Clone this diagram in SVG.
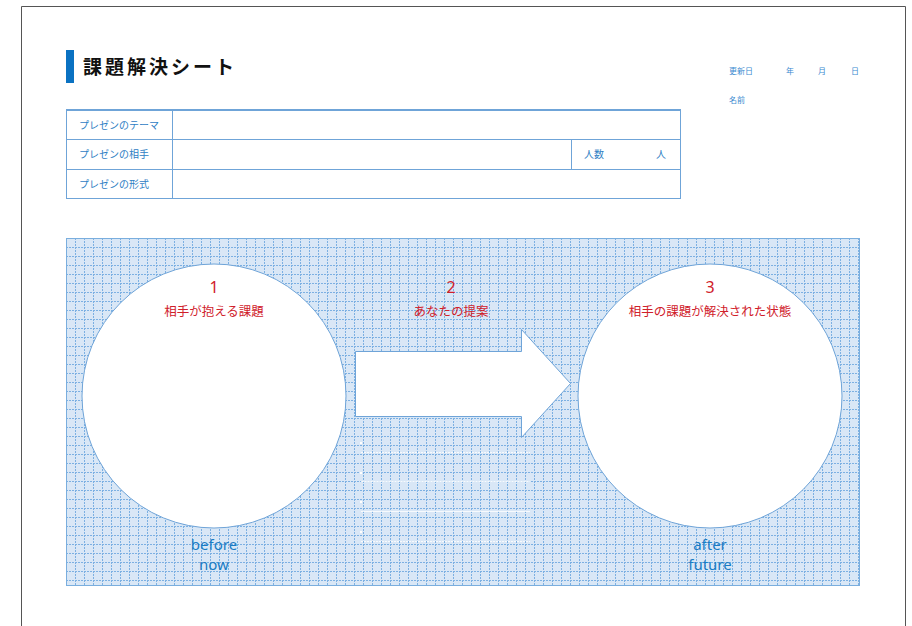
<svg xmlns="http://www.w3.org/2000/svg" width="912" height="626" viewBox="0 0 912 626">
<defs>
<style>
.lbl{font-family:"Noto Sans CJK JP","Noto Sans",sans-serif;font-size:10px;fill:#2f80c4}
.sm{font-family:"Noto Sans CJK JP","Noto Sans",sans-serif;font-size:8px;fill:#3a8ad0}
.red{font-family:"Noto Sans","Noto Sans CJK JP",sans-serif;fill:#d0202a;text-anchor:middle}
.blue{font-family:"Noto Sans","Noto Sans CJK JP",sans-serif;font-size:15px;fill:#1a7cc4;text-anchor:middle}
.tl{stroke:#6fa4d8;stroke-width:1;fill:none}
.shape{fill:#fff;stroke:#6fa4d8;stroke-width:1}
</style>
<pattern id="grid" x="66" y="238" width="9" height="9" patternUnits="userSpaceOnUse">
<rect width="9" height="9" fill="#d9e7f6"/>
<path d="M0 0.5H9" stroke="#7cb0e2" stroke-width="1" stroke-dasharray="2 1"/>
<path d="M0.5 0V9" stroke="#7cb0e2" stroke-width="1" stroke-dasharray="2 1"/>
</pattern>
</defs>
<rect width="912" height="626" fill="#fff"/>
<path d="M21.5 626V6.5H905.5V626" fill="none" stroke="#555" stroke-width="1"/>

<g id="title">
<rect x="66" y="50" width="8" height="33" fill="#0a72c2"/>
<text x="83" y="74" font-family="'Noto Sans CJK JP',sans-serif" font-weight="bold" font-size="19" letter-spacing="3" fill="#111">課題解決シート</text>
</g>

<g id="meta">
<text class="sm" x="729" y="74">更新日</text>
<text class="sm" x="786" y="74">年</text>
<text class="sm" x="818" y="74">月</text>
<text class="sm" x="851" y="74">日</text>
<text class="sm" x="729" y="103">名前</text>
</g>

<g id="table">
<rect x="66.5" y="110.5" width="614" height="88" class="tl"/>
<path d="M66 110H681" stroke="#6fa4d8" stroke-width="2"/>
<path d="M66 139.5H681M66 169.5H681M172.5 110V198M571.5 139V169" class="tl"/>
<text class="lbl" x="79" y="129">プレゼンのテーマ</text>
<text class="lbl" x="79" y="158">プレゼンの相手</text>
<text class="lbl" x="79" y="188">プレゼンの形式</text>
<text class="lbl" x="584" y="158">人数</text>
<text class="lbl" x="656" y="158">人</text>
</g>

<g id="panel">
<rect x="66.5" y="238.5" width="793" height="347" fill="url(#grid)" stroke="#7aaede" stroke-width="1"/>
<g stroke="#fff" stroke-width="1" opacity="0.8">
<path d="M361 452.5H530" stroke-dasharray="2 1"/>
<path d="M361 481.5H530"/>
<path d="M361 511.5H530"/>
<path d="M361 541.5H530" stroke-dasharray="2 1"/>
</g>
<g fill="#fff">
<rect x="360" y="442" width="2" height="2"/>
<rect x="360" y="472" width="2" height="2"/>
<rect x="360" y="501" width="2" height="2"/>
<rect x="360" y="531" width="2" height="2"/>
</g>
</g>

<g id="node1">
<circle cx="214" cy="396" r="132" class="shape"/>
<text class="red" x="214" y="293" font-size="16">1</text>
<text class="red" x="214" y="316" font-size="12.5">相手が抱える課題</text>
<text class="blue" x="214" y="550">before</text>
<text class="blue" x="214" y="570">now</text>
</g>

<g id="node2">
<path d="M355.5 351.5H521.5V329.5L570.5 383.5L521.5 437.5V416.5H355.5Z" class="shape"/>
<text class="red" x="451" y="293" font-size="16">2</text>
<text class="red" x="451" y="316" font-size="12.5">あなたの提案</text>
</g>

<g id="node3">
<circle cx="710" cy="396" r="132" class="shape"/>
<text class="red" x="710" y="293" font-size="16">3</text>
<text class="red" x="710" y="316" font-size="12.5">相手の課題が解決された状態</text>
<text class="blue" x="710" y="550">after</text>
<text class="blue" x="710" y="570">future</text>
</g>

<g id="connectors"></g>
</svg>
